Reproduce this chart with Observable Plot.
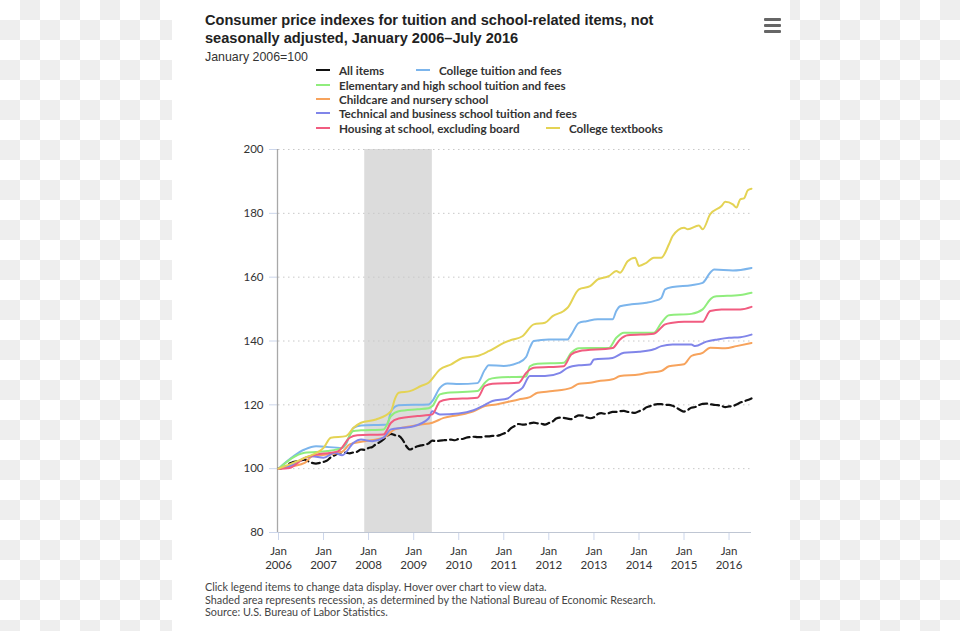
<!DOCTYPE html>
<html><head><meta charset="utf-8">
<script src="https://cdn.jsdelivr.net/npm/d3@7"></script>
<script src="https://cdn.jsdelivr.net/npm/@observablehq/plot@0.6"></script>
<style>
html,body{margin:0;padding:0;width:960px;height:631px;overflow:hidden;}
body{position:relative;background:repeating-conic-gradient(#eeeeee 0 25%, #ffffff 0 50%) 0 0/40px 40px;font-family:Lato,"Open Sans",sans-serif;}
#card{position:absolute;left:172px;top:0;width:618px;height:631px;background:#fff;}
#title{position:absolute;left:205px;top:11px;font:bold 14.6px/18px "Liberation Sans",Arial,sans-serif;color:#222;white-space:nowrap;}
#subtitle{position:absolute;left:205px;top:50px;font:12.4px/14px "Liberation Sans",Arial,sans-serif;color:#333;white-space:nowrap;}
.menu{position:absolute;left:764px;width:17px;height:3px;background:#666;border-radius:1px;}
.lg{position:absolute;height:14px;font:bold 11.7px/14px Lato,sans-serif;color:#333;white-space:nowrap;}
.lg .sym{position:absolute;left:0;top:6px;width:14px;height:2px;}
.lg .txt{position:absolute;left:23px;top:0;}
#chart{position:absolute;left:0;top:140px;}
#footer{position:absolute;left:205px;top:581px;font:10.8px/12.5px Lato,sans-serif;color:#444;white-space:nowrap;}
</style></head>
<body>
<div id="card"></div>
<div id="title">Consumer price indexes for tuition and school-related items, not<br>seasonally adjusted, January 2006–July 2016</div>
<div id="subtitle">January 2006=100</div>
<div class="menu" style="top:18px"></div><div class="menu" style="top:24px"></div><div class="menu" style="top:30px"></div>
<div id="legend"></div>
<div id="chart"></div>
<div id="footer">Click legend items to change data display. Hover over chart to view data.<br>Shaded area represents recession, as determined by the National Bureau of Economic Research.<br>Source: U.S. Bureau of Labor Statistics.</div>
<script>
// ---------- DATA ----------
const seriesNames = ["All items","College tuition and fees","Elementary and high school tuition and fees","Childcare and nursery school","Technical and business school tuition and fees","Housing at school, excluding board","College textbooks"];
const seriesColors = ["#111111","#7cb5ec","#90ed7d","#f7a35c","#8085e9","#f15c80","#e4d354"];

// All items: monthly, starting January 2006
const allItemsStart = "2006-01";
const allItemsValues = [
100.0,100.2,100.8,101.6,102.1,102.3,102.6,102.8,102.3,101.8,101.6,101.8,
102.1,102.6,103.6,104.2,104.8,105.1,105.0,104.8,105.1,105.3,106.0,105.9,
106.5,106.8,107.7,108.3,109.2,110.3,110.9,110.5,110.3,109.2,107.1,106.0,
106.5,107.0,107.3,107.5,107.9,108.8,108.6,108.8,108.9,109.0,109.1,108.9,
109.3,109.3,109.7,109.9,110.0,109.9,109.9,110.1,110.1,110.3,110.3,110.5,
111.0,111.6,112.7,113.4,114.0,113.8,113.9,114.2,114.4,114.2,114.1,113.8,
114.3,114.8,115.7,116.0,115.9,115.7,115.5,116.2,116.7,116.6,116.1,115.8,
116.1,117.1,117.4,117.2,117.4,117.8,117.8,118.0,118.1,117.8,117.6,117.5,
118.0,118.4,119.2,119.6,120.0,120.2,120.2,120.0,120.0,119.7,119.1,118.4,
117.9,118.4,119.1,119.3,119.9,120.3,120.4,120.2,120.0,119.9,119.7,119.3,
119.5,119.6,120.1,120.7,121.1,121.5,122.0];

const collegeTuition = [["2006-01",100],["2006-08",106.0],["2006-11",107.0],["2007-06",106.5],["2007-07",107.6],["2007-09",112.8],["2007-11",113.5],["2008-06",113.8],["2008-07",118.0],["2008-09",119.9],["2009-05",120.1],["2009-06",121.2],["2009-08",125.3],["2009-10",126.7],["2010-01",126.5],["2010-06",126.8],["2010-08",131.0],["2010-09",132.4],["2011-01",132.2],["2011-05",133.2],["2011-07",135.0],["2011-08",138.0],["2011-09",140.0],["2012-01",140.5],["2012-06",140.5],["2012-07",142.0],["2012-09",145.7],["2012-11",146.2],["2013-02",146.8],["2013-06",146.8],["2013-07",149.4],["2013-08",150.9],["2013-11",151.5],["2014-03",152.0],["2014-05",152.5],["2014-07",153.5],["2014-08",156.2],["2014-10",156.9],["2015-03",157.5],["2015-06",158.2],["2015-08",161.4],["2015-09",162.4],["2016-02",162.1],["2016-07",162.9]];

const elementaryHigh = [["2006-01",100],["2006-08",105.0],["2007-02",105.5],["2007-06",106.5],["2007-09",111.8],["2007-11",112.0],["2008-05",112.3],["2008-07",116.5],["2008-09",118.0],["2009-02",118.6],["2009-05",118.9],["2009-06",119.6],["2009-08",123.3],["2009-10",123.8],["2010-06",124.3],["2010-08",126.9],["2010-09",128.0],["2010-11",128.5],["2011-07",128.9],["2011-08",132.1],["2011-10",132.9],["2012-05",133.2],["2012-07",136.3],["2012-09",137.7],["2012-12",137.8],["2013-05",137.8],["2013-07",141.0],["2013-09",142.6],["2014-05",142.6],["2014-07",145.7],["2014-09",148.1],["2015-03",148.5],["2015-06",149.9],["2015-08",153.0],["2015-09",153.9],["2016-04",154.4],["2016-07",155.1]];

const childcare = [["2006-01",100],["2006-05",100.8],["2006-08",101.8],["2006-10",103.9],["2007-02",104.4],["2007-06",105.3],["2007-08",107.6],["2007-12",108.6],["2008-05",109.7],["2008-08",112.3],["2008-10",112.8],["2009-03",113.8],["2009-06",114.4],["2009-09",115.9],["2010-01",116.8],["2010-05",118.0],["2010-08",119.6],["2010-11",120.1],["2011-02",120.9],["2011-05",121.7],["2011-08",122.4],["2011-10",123.8],["2012-02",124.3],["2012-07",125.3],["2012-09",126.6],["2012-12",126.9],["2013-02",127.4],["2013-06",128.0],["2013-08",129.0],["2014-01",129.5],["2014-03",130.0],["2014-07",130.6],["2014-09",132.1],["2015-01",132.7],["2015-03",135.3],["2015-06",136.3],["2015-08",137.9],["2015-12",137.7],["2016-03",138.4],["2016-07",139.4]];

const technicalBusiness = [["2006-01",100],["2006-05",101.3],["2006-08",103.4],["2006-10",103.9],["2007-01",103.4],["2007-04",105.0],["2007-06",104.2],["2007-09",108.1],["2007-11",109.1],["2008-02",108.6],["2008-05",109.7],["2008-07",112.3],["2008-10",112.8],["2009-01",113.3],["2009-05",115.7],["2009-06",118.0],["2009-08",117.0],["2010-01",117.3],["2010-05",118.3],["2010-08",120.0],["2010-10",121.2],["2011-02",122.0],["2011-04",123.8],["2011-06",125.3],["2011-08",129.0],["2011-12",129.0],["2012-04",130.0],["2012-06",131.6],["2012-09",132.4],["2012-12",132.6],["2013-01",134.2],["2013-06",134.7],["2013-09",136.3],["2014-01",136.6],["2014-05",137.4],["2014-07",138.4],["2014-10",138.9],["2015-03",138.9],["2015-04",138.4],["2015-07",139.8],["2015-10",140.5],["2016-01",141.0],["2016-04",141.2],["2016-07",142.0]];

const housingAtSchool = [["2006-01",100],["2006-04",100.2],["2006-08",103.4],["2006-11",104.4],["2007-03",105.0],["2007-05",105.5],["2007-08",109.7],["2007-10",110.5],["2008-05",110.7],["2008-07",114.4],["2008-09",115.7],["2009-02",116.5],["2009-05",116.8],["2009-06",117.0],["2009-08",121.0],["2009-10",121.7],["2010-06",122.2],["2010-08",125.9],["2010-10",126.6],["2011-05",126.9],["2011-07",130.0],["2011-09",131.6],["2012-05",132.1],["2012-07",135.8],["2012-09",136.8],["2013-06",137.8],["2013-08",140.5],["2013-10",141.8],["2014-05",142.3],["2014-08",145.2],["2014-10",145.7],["2015-01",146.0],["2015-06",146.0],["2015-08",149.4],["2015-11",149.9],["2016-04",149.9],["2016-07",150.7]];

const collegeTextbooks = [["2006-01",100],["2006-08",103.4],["2007-01",106.5],["2007-03",109.7],["2007-07",110.2],["2007-09",112.8],["2007-11",114.4],["2008-03",115.4],["2008-07",118.0],["2008-08",121.8],["2008-09",123.8],["2008-12",124.3],["2009-03",125.9],["2009-05",126.9],["2009-08",131.1],["2009-11",132.7],["2010-02",134.7],["2010-06",135.3],["2010-09",136.8],["2011-01",139.4],["2011-03",140.3],["2011-06",141.5],["2011-09",145.2],["2011-12",145.7],["2012-02",147.8],["2012-05",149.4],["2012-06",150.4],["2012-09",156.2],["2012-12",157.2],["2013-02",159.3],["2013-05",160.3],["2013-07",161.9],["2013-08",161.4],["2013-10",165.0],["2013-12",166.1],["2014-01",163.5],["2014-03",164.5],["2014-05",166.1],["2014-07",166.1],["2014-09",170.3],["2014-10",172.9],["2015-01",175.5],["2015-02",175.0],["2015-05",176.2],["2015-06",175.0],["2015-08",179.7],["2015-11",182.3],["2015-12",183.6],["2016-02",182.8],["2016-03",181.8],["2016-04",184.4],["2016-05",184.7],["2016-06",187.2],["2016-07",187.7]];

const recession = [["2007-12","2009-06"]];
const xTickYears = [2006,2007,2008,2009,2010,2011,2012,2013,2014,2015,2016];
const xTickMonthLabel = "Jan";
const yTicks = [80,100,120,140,160,180,200];
const xDomain = ["2006-01","2016-07"];
const yDomain = [80,200];

// ---------- BUILD ----------
const parse = d3.utcParse("%Y-%m");
const start = parse(allItemsStart);
const allItems = allItemsValues.map((v,i)=>({date: d3.utcMonth.offset(start,i), value: v}));
const colored = [collegeTuition, elementaryHigh, childcare, technicalBusiness, housingAtSchool, collegeTextbooks];
const table = [];
colored.forEach((arr,k)=>arr.forEach(([d,v])=>table.push({series: seriesNames[k+1], date: parse(d), value: v})));
const recessionRows = recession.map(([a,b])=>({start: parse(a), end: parse(b)}));
const tickDates = xTickYears.map(y=>new Date(Date.UTC(y,0,1)));

const chart = Plot.plot({
  width: 960, height: 440,
  marginLeft: 278, marginRight: 209, marginTop: 9, marginBottom: 48,
  style: {background: "transparent", fontFamily: "Lato, sans-serif", fontSize: "11px", color: "#333", overflow: "visible"},
  x: {type: "utc", domain: xDomain.map(parse)},
  y: {domain: yDomain},
  color: {domain: seriesNames, range: seriesColors},
  marks: [
    Plot.rect(recessionRows, {x1: "start", x2: "end", fill: "#dcdcdc"}),
    Plot.gridY(yTicks.filter(t=>t>yDomain[0]), {stroke: "#c8c8c8", strokeOpacity: 1, strokeDasharray: "1.5,3.5", strokeWidth: 1}),
    Plot.axisY(yTicks, {tickSize: 9, tickPadding: 6, stroke: "#ccd6eb", fill: "#333", fontSize: 11.5, label: null}),
    Plot.axisX(tickDates, {tickSize: 8, tickPadding: 4, stroke: "#ccd6eb", fill: "#333", fontSize: 11.5, lineHeight: 1.25, label: null,
      tickFormat: d => `${xTickMonthLabel}\n${d.getUTCFullYear()}`}),
    Plot.ruleY([yDomain[0]], {stroke: "#bfc6d3", strokeWidth: 1.2}),
    Plot.ruleX([parse(xDomain[0])], {stroke: "#a8a8a8", strokeWidth: 1.3, dx: -1}),
    Plot.line(allItems, {x: "date", y: "value", stroke: seriesColors[0], strokeWidth: 2.2, strokeDasharray: "8,4", curve: "monotone-x"}),
    Plot.line(table, {x: "date", y: "value", z: "series", stroke: "series", strokeWidth: 2, curve: "monotone-x"})
  ]
});
document.getElementById("chart").appendChild(chart);

// legend
const legendPos = [[316,63],[416,63],[316,78],[316,92],[316,106],[316,121],[546,121]];
const lg = document.getElementById("legend");
seriesNames.forEach((name,i)=>{
  const d = document.createElement("div");
  d.className = "lg";
  d.style.left = legendPos[i][0]+"px";
  d.style.top = legendPos[i][1]+"px";
  d.innerHTML = `<div class="sym" style="background:${seriesColors[i]}"></div><div class="txt">${name}</div>`;
  lg.appendChild(d);
});
</script>
</body></html>
